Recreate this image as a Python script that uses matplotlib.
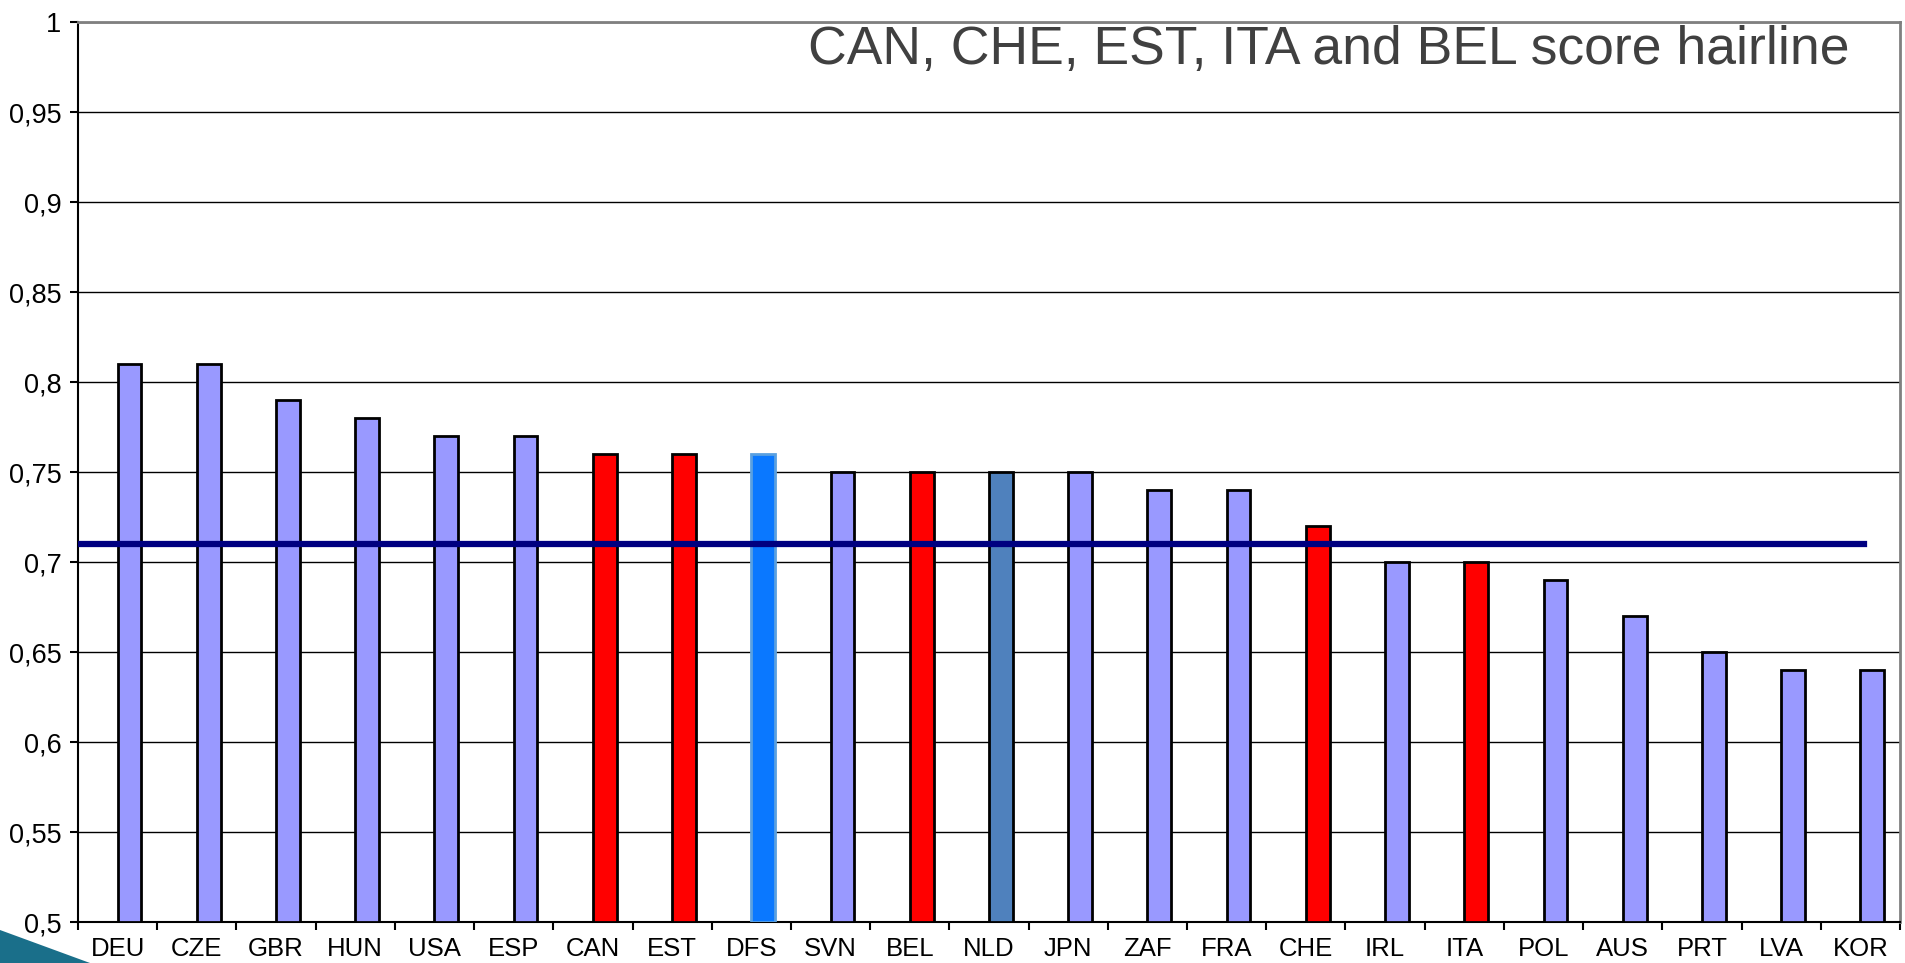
import numpy as np
import matplotlib.pyplot as plt
from matplotlib.patches import Polygon

# Country scores vs hairline
countries = ['DEU', 'CZE', 'GBR', 'HUN', 'USA', 'ESP', 'CAN', 'EST', 'DFS', 'SVN', 'BEL', 'NLD',
             'JPN', 'ZAF', 'FRA', 'CHE', 'IRL', 'ITA', 'POL', 'AUS', 'PRT', 'LVA', 'KOR']
scores = [0.81, 0.81, 0.79, 0.78, 0.77, 0.77, 0.76, 0.76, 0.76, 0.75, 0.75, 0.75,
          0.75, 0.74, 0.74, 0.72, 0.70, 0.70, 0.69, 0.67, 0.65, 0.64, 0.64]
hairline = 0.71
highlight = ['CAN', 'CHE', 'EST', 'ITA', 'BEL']
yticks = [0.5, 0.55, 0.6, 0.65, 0.7, 0.75, 0.8, 0.85, 0.9, 0.95, 1.0]
ylabels = ['0,5', '0,55', '0,6', '0,65', '0,7', '0,75', '0,8', '0,85', '0,9', '0,95', '1']

plt.rcParams['font.family'] = ['Liberation Sans', 'DejaVu Sans']

fig = plt.figure(figsize=(19.05, 9.63), dpi=100)
ax = fig.add_axes([78/1905, 41/963, 1822/1905, 900/963])

x = np.arange(len(countries))
w = 0.3
colors = []
edges = []
for c in countries:
    if c in highlight:
        colors.append('#FF0000'); edges.append('black')
    elif c == 'DFS':
        colors.append('#0A78FF'); edges.append('#5AA0E0')
    elif c == 'NLD':
        colors.append('#4F81BD'); edges.append('black')
    else:
        colors.append('#9999FF'); edges.append('black')

# empty first series sits on the baseline
for xi in x:
    ax.plot([xi - w, xi], [0.5, 0.5], color='black', lw=2, zorder=3, solid_capstyle='butt')

ax.bar(x + w/2, np.array(scores) - 0.5, bottom=0.5, width=w, color=colors,
       edgecolor=edges, linewidth=2, zorder=3)

ax.plot([-0.5, len(countries) - 0.95], [hairline, hairline], color='#000080', lw=4.5, zorder=4)

ax.set_xlim(-0.5, len(countries) - 0.5)
ax.set_ylim(0.5, 1.0)
ax.set_yticks(yticks)
ax.set_yticklabels(ylabels, fontsize=19.5)
ax.yaxis.grid(True, color='black', lw=1)
ax.set_axisbelow(True)

ax.set_xticks(np.arange(-0.5, len(countries), 1.0))
ax.set_xticklabels([])
ax.set_xticks(x, minor=True)
ax.set_xticklabels(countries, minor=True, fontsize=18.5)
ax.tick_params(axis='x', which='minor', length=0, pad=11)
ax.tick_params(axis='x', which='major', length=6, width=1.5, direction='out')
ax.tick_params(axis='y', length=6, width=1.5, pad=6)

for s in ['left', 'bottom']:
    ax.spines[s].set_linewidth(1.5)
for s in ['top', 'right']:
    ax.spines[s].set_color('#808080')
    ax.spines[s].set_linewidth(2)

ax.text(0.9725, 0.953, 'CAN, CHE, EST, ITA and BEL score hairline', transform=ax.transAxes,
        ha='right', va='baseline', fontsize=38.5, color='#404040')

# decorative corner wedge
fig.patches.append(Polygon([[0, 33/963], [90/1905, 0], [0, 0]], closed=True,
                           transform=fig.transFigure, facecolor='#1A6F8A', edgecolor='none'))

fig.savefig('out.png', dpi=100)
